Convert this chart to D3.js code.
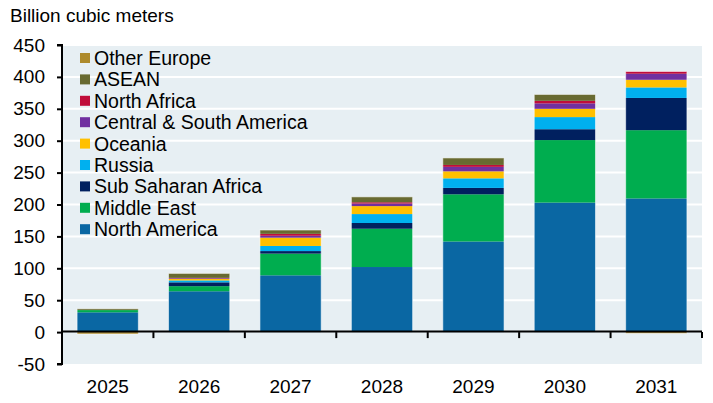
<!DOCTYPE html>
<html>
<head>
<meta charset="utf-8">
<script src="https://cdn.jsdelivr.net/npm/d3@7"></script>
<style>
  html, body { margin: 0; padding: 0; background: #fff; }
  svg { display: block; font-family: "Liberation Sans", Arial, sans-serif; }
</style>
</head>
<body>
<svg id="chart" width="713" height="403"></svg>
<script>
// Years on the x axis
const years = ["2025", "2026", "2027", "2028", "2029", "2030", "2031"];

// Regions, stacked from the bottom up
const regions = ["North America", "Middle East", "Sub Saharan Africa", "Russia", "Oceania",
                 "Central & South America", "North Africa", "ASEAN", "Other Europe"];

// Capacity additions by region, billion cubic meters
const northAmerica   = [31,   64,  89,  102,  142, 203, 209.5];
const middleEast     = [3.5,  8,   34,  60,   74,  98,  107];
const subSaharan     = [0,    6,   4,   9,    10,  17,  50.5];
const russia         = [0,    3,   8,   14,   15,  19,  16.5];
const oceania        = [0,    2.5, 13,  12.5, 11,  13,  12];
const centralSouth   = [0,    1,   3,   4,    7,   8.5, 9.5];
const northAfrica    = [0,    0.5, 3,   2,    3,   4,   3.5];
const asean          = [2,    7,   6,   8.5,  11,  10,  0];
const otherEurope    = [-3,   0,   0,   0,    0,   0,   -2];

const yTicks = [-50, 0, 50, 100, 150, 200, 250, 300, 350, 400, 450];

const colors = {
  "North America": "#0a67a3",
  "Middle East": "#00ad4f",
  "Sub Saharan Africa": "#00205f",
  "Russia": "#00b0ef",
  "Oceania": "#ffc000",
  "Central & South America": "#7030a0",
  "North Africa": "#c00d3a",
  "ASEAN": "#686a31",
  "Other Europe": "#ad8a2c"
};

const seriesValues = [northAmerica, middleEast, subSaharan, russia, oceania,
                      centralSouth, northAfrica, asean, otherEurope];

const rows = years.map((y, i) => {
  const r = { year: y };
  regions.forEach((k, j) => { r[k] = seriesValues[j][i]; });
  return r;
});

const svg = d3.select("#chart");
const plot = { left: 62, right: 702, top: 45, bottom: 364 };

const x = d3.scaleBand()
  .domain(years)
  .range([plot.left, plot.right])
  .paddingInner(0.33)
  .paddingOuter(0.165);

const y = d3.scaleLinear()
  .domain([-50, 450])
  .range([plot.bottom, plot.top]);

// Plot background
svg.append("rect")
  .attr("x", plot.left).attr("y", plot.top)
  .attr("width", plot.right - plot.left).attr("height", plot.bottom - plot.top)
  .attr("fill", "#e7eff3");

// Gridlines
svg.append("g")
  .selectAll("line")
  .data(yTicks.filter(t => t !== 0 && t !== -50))
  .join("line")
  .attr("x1", plot.left).attr("x2", plot.right)
  .attr("y1", d => y(d)).attr("y2", d => y(d))
  .attr("stroke", "#ffffff").attr("stroke-width", 2);

// Stacked bars
const stack = d3.stack().keys(regions).offset(d3.stackOffsetDiverging);
const layers = stack(rows);

svg.append("g")
  .selectAll("g")
  .data(layers)
  .join("g")
  .attr("fill", d => colors[d.key])
  .selectAll("rect")
  .data(d => d)
  .join("rect")
  .attr("x", d => x(d.data.year))
  .attr("width", x.bandwidth())
  .attr("y", d => y(Math.max(d[0], d[1])))
  .attr("height", d => Math.abs(y(d[0]) - y(d[1])));

// Light edge around each bar
const extents = rows.map(r => {
  let pos = 0, neg = 0;
  regions.forEach(k => { if (r[k] > 0) pos += r[k]; else neg += r[k]; });
  return { year: r.year, pos, neg };
});
svg.append("g")
  .selectAll("rect")
  .data(extents)
  .join("rect")
  .attr("x", d => x(d.year))
  .attr("width", x.bandwidth())
  .attr("y", d => y(d.pos))
  .attr("height", d => y(d.neg) - y(d.pos))
  .attr("fill", "none")
  .attr("stroke", "rgba(255,255,255,0.55)")
  .attr("stroke-width", 1);

// Zero line with category ticks
svg.append("line")
  .attr("x1", plot.left).attr("x2", plot.right)
  .attr("y1", y(0) - 0.5).attr("y2", y(0) - 0.5)
  .attr("stroke", "#000").attr("stroke-width", 2);

const boundaries = years.map(yr => x(yr) + x.bandwidth() + x.step() * x.paddingInner() / 2);
svg.append("g")
  .selectAll("line")
  .data(boundaries)
  .join("line")
  .attr("x1", d => d).attr("x2", d => d)
  .attr("y1", y(0)).attr("y2", y(0) + 6)
  .attr("stroke", "#000").attr("stroke-width", 2);

// Y axis
const yAxis = d3.axisLeft(y)
  .tickValues(yTicks)
  .tickSize(5)
  .tickPadding(12)
  .tickFormat(d => String(d));

const gy = svg.append("g")
  .attr("transform", `translate(${plot.left},0)`)
  .call(yAxis);
gy.select(".domain").attr("stroke", "#000").attr("stroke-width", 2)
  .attr("d", `M-5,${y(450)}H0V${y(-50)}H-5`);
gy.selectAll(".tick line").attr("stroke", "#000").attr("stroke-width", 2);
gy.selectAll(".tick text")
  .attr("fill", "#000")
  .style("font-size", "19px")
  .style("font-family", "\"Liberation Sans\", Arial, sans-serif");

// X labels
svg.append("g")
  .selectAll("text")
  .data(years)
  .join("text")
  .attr("x", d => x(d) + x.bandwidth() / 2)
  .attr("y", 393)
  .attr("text-anchor", "middle")
  .attr("fill", "#000")
  .style("font-size", "19px")
  .text(d => d);

// Axis title
svg.append("text")
  .attr("x", 10).attr("y", 22)
  .attr("fill", "#000")
  .style("font-size", "19px")
  .text("Billion cubic meters");

// Legend
const legendItems = regions.slice().reverse();
const legend = svg.append("g").attr("transform", "translate(80,58)");
const item = legend.selectAll("g")
  .data(legendItems)
  .join("g")
  .attr("transform", (d, i) => `translate(0,${i * 21.4})`);
item.append("rect")
  .attr("x", 0).attr("y", -5)
  .attr("width", 10).attr("height", 10)
  .attr("fill", d => colors[d]);
item.append("text")
  .attr("x", 14).attr("y", 7)
  .attr("fill", "#000")
  .style("font-size", "19.5px")
  .text(d => d);
</script>
</body>
</html>
